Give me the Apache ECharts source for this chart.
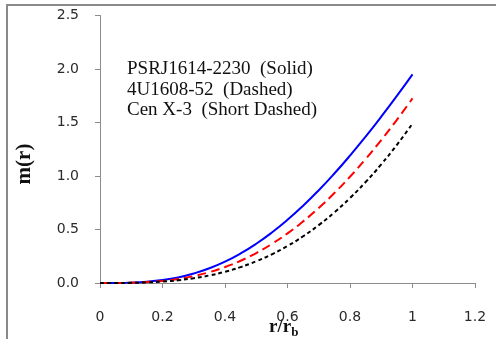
<!DOCTYPE html>
<html><head><meta charset="utf-8">
<script src="https://cdn.jsdelivr.net/npm/echarts@6/dist/echarts.min.js"></script>
<style>html,body{margin:0;padding:0;background:#fff}#c{width:496px;height:339px}</style>
</head><body><div id="c"></div>
<script>
const rValues = [0,0.05,0.1,0.15,0.2,0.25,0.3,0.35,0.4,0.45,0.5,0.55,0.6,0.65,0.7,0.75,0.8,0.85,0.9,0.95,1.0];
const psrSolid = [0,0.0004,0.0035,0.0117,0.0274,0.0525,0.0888,0.1377,0.2000,0.2763,0.3669,0.4717,0.5903,0.7223,0.8668,1.0231,1.1903,1.3676,1.5539,1.7484,1.9503];
const u1608Dashed = [0,0.0003,0.0025,0.0083,0.0196,0.0379,0.0647,0.1013,0.1488,0.2082,0.2802,0.3653,0.4639,0.5760,0.7017,0.8409,0.9933,1.1584,1.3359,1.5251,1.7256];
const cenShortDashed = [0,0.0002,0.0017,0.0056,0.0133,0.0259,0.0447,0.0707,0.1050,0.1487,0.2029,0.2684,0.3460,0.4367,0.5412,0.6601,0.7941,0.9435,1.1091,1.2911,1.4898];
const legendLines = ["PSRJ1614-2230  (Solid)","4U1608-52  (Dashed)","Cen X-3  (Short Dashed)"];
const xTicks = [0,0.2,0.4,0.6,0.8,1,1.2];
const yTicks = [0,0.5,1,1.5,2,2.5];

const chart = echarts.init(document.getElementById('c'), null, {renderer:'canvas'});
const pair = arr => rValues.map((r,i)=>[r,arr[i]]);
const axisCol = '#8c8c8c';
const labFont = {fontFamily:'DejaVu Sans', fontSize:14, color:'#2a2a2a'};
chart.setOption({
  animation:false,
  grid:{left:100,right:21,top:15.5,bottom:56},
  xAxis:{type:'value',min:0,max:1.2,interval:0.2,
    axisLine:{lineStyle:{color:axisCol,width:1}},
    axisTick:{inside:false,length:5,lineStyle:{color:axisCol}},
    splitLine:{show:false},
    axisLabel:Object.assign({margin:27,formatter:v=>String(+v.toFixed(1))},labFont)},
  yAxis:{type:'value',min:0,max:2.5,interval:0.5,
    axisLine:{show:true,lineStyle:{color:axisCol,width:1}},
    axisTick:{show:true,length:5,lineStyle:{color:axisCol}},
    splitLine:{show:false},
    axisLabel:Object.assign({margin:21,formatter:v=>v.toFixed(1)},labFont)},
  series:[
    {type:'line',data:pair(psrSolid),smooth:true,showSymbol:false,lineStyle:{color:'#0000ff',width:2}},
    {type:'line',data:pair(u1608Dashed),smooth:true,showSymbol:false,lineStyle:{color:'#ff0000',width:2,type:[9,5]}},
    {type:'line',data:pair(cenShortDashed),smooth:true,showSymbol:false,lineStyle:{color:'#000000',width:2,type:[4,3]}}
  ],
  graphic:[
    {type:'line',shape:{x1:7,y1:4,x2:7,y2:339},style:{stroke:'#8a8a8a',lineWidth:2}},
    {type:'line',shape:{x1:6,y1:5,x2:496,y2:5},style:{stroke:'#8a8a8a',lineWidth:2}},
    {type:'text',left:127,top:59,style:{text:legendLines.join('\n'),font:'19px "Liberation Serif"',lineHeight:20.5,fill:'#111'}},
    {type:'text',x:25,y:164,rotation:Math.PI/2,style:{text:'m(r)',font:'bold 21px "Liberation Serif"',fill:'#111',align:'center',verticalAlign:'middle'}},
    {type:'text',x:269,y:315,style:{text:'{a|r/r}{b|b}',fill:'#111',rich:{a:{font:'bold 19px "Liberation Serif"',fill:'#111'},b:{font:'bold 13px "Liberation Serif"',fill:'#111',padding:[11,0,0,0]}}}}
  ]
});
</script></body></html>
